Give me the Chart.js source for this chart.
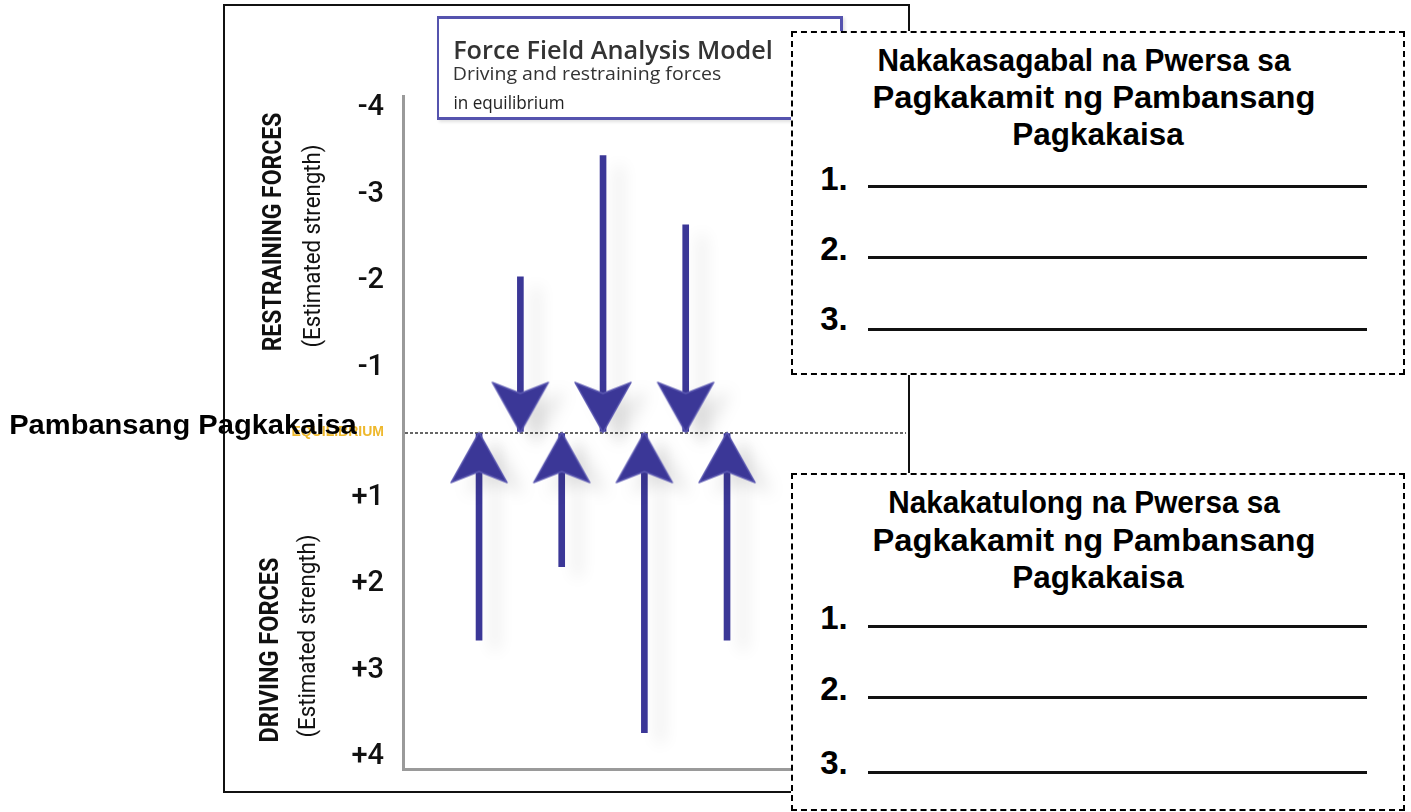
<!DOCTYPE html>
<html>
<head>
<meta charset="utf-8">
<script src="https://cdn.jsdelivr.net/npm/chart.js@4.4.1/dist/chart.umd.min.js"></script>
<style>
  html, body { margin:0; padding:0; background:#fff; }
  #page { position:relative; width:1411px; height:812px; overflow:hidden; background:#fff; }
  #frame { position:absolute; left:223px; top:4px; width:687px; height:789px; border:2px solid #111; box-sizing:border-box; z-index:1; }
  #chart { position:absolute; left:0; top:0; z-index:2; }
  #titlebox { position:absolute; left:437px; top:16px; width:406px; height:104px; box-sizing:border-box;
              border:3px solid #5553ae; border-left-width:2px; z-index:3; background:transparent;
              box-shadow: 2px 2px 3px rgba(0,0,0,0.12); }
  .t { position:absolute; white-space:nowrap; line-height:1; z-index:4; }
  .box { position:absolute; left:791px; width:614px; box-sizing:border-box; border:2px dashed #000; background:#fff; z-index:5; }
  .bt { position:absolute; white-space:nowrap; line-height:1; z-index:6; font-family:"Liberation Sans", Arial, sans-serif; font-weight:bold; color:#000; font-size:32px; }
  .num { font-size:33px; }
  .ul { position:absolute; left:868px; width:499px; height:0; border-top:3px solid #111; z-index:6; }
  #pp { z-index:7; }
</style>
</head>
<body>
<div id="page">
  <div id="frame"></div>
  <canvas id="chart" width="1411" height="812"></canvas>
  <div id="titlebox"></div>

  <div class="t" data-left="453" data-y="49" data-w="320" style="font-family:'Open Sans',sans-serif;font-weight:600;font-size:25px;color:#333;">Force Field Analysis Model</div>
  <div class="t" data-left="453" data-y="73" data-w="268" style="font-family:'Open Sans',sans-serif;font-weight:500;font-size:19px;color:#333;">Driving and restraining forces</div>
  <div class="t" data-left="453" data-y="102" data-w="111" style="font-family:'Open Sans',sans-serif;font-weight:500;font-size:19px;color:#222;">in equilibrium</div>

  <div class="t" data-x="272" data-y="232" data-w="239" data-rot="-90" style="font-family:Roboto,sans-serif;font-weight:700;font-size:25px;color:#111;">RESTRAINING FORCES</div>
  <div class="t" data-x="312" data-y="246" data-w="203" data-rot="-90" style="font-family:Roboto,sans-serif;font-weight:400;font-size:24px;color:#111;">(Estimated strength)</div>
  <div class="t" data-x="269" data-y="650" data-w="185" data-rot="-90" style="font-family:Roboto,sans-serif;font-weight:700;font-size:25px;color:#111;">DRIVING FORCES</div>
  <div class="t" data-x="307" data-y="636" data-w="203" data-rot="-90" style="font-family:Roboto,sans-serif;font-weight:400;font-size:24px;color:#111;">(Estimated strength)</div>

  <div class="t" id="pp" data-left="9" data-y="425" data-w="348" style="font-family:'Liberation Sans',Arial,sans-serif;font-weight:bold;font-size:28px;color:#000;">Pambansang Pagkakaisa</div>

  <div class="box" style="top:31px;height:344px;"></div>
  <div class="bt" data-x="1084" data-y="60" data-w="413">Nakakasagabal na Pwersa sa</div>
  <div class="bt" data-x="1094" data-y="97" data-w="443">Pagkakamit ng Pambansang</div>
  <div class="bt" data-x="1098" data-y="134" data-w="171">Pagkakaisa</div>
  <div class="bt num" data-left="820" data-y="178" data-w="28">1.</div>
  <div class="ul" style="top:185px;"></div>
  <div class="bt num" data-left="820" data-y="248" data-w="28">2.</div>
  <div class="ul" style="top:256px;"></div>
  <div class="bt num" data-left="820" data-y="318" data-w="28">3.</div>
  <div class="ul" style="top:328px;"></div>

  <div class="box" style="top:473px;height:338px;"></div>
  <div class="bt" data-x="1084" data-y="502" data-w="392">Nakakatulong na Pwersa sa</div>
  <div class="bt" data-x="1094" data-y="540" data-w="443">Pagkakamit ng Pambansang</div>
  <div class="bt" data-x="1098" data-y="577" data-w="171">Pagkakaisa</div>
  <div class="bt num" data-left="820" data-y="617" data-w="28">1.</div>
  <div class="ul" style="top:625px;"></div>
  <div class="bt num" data-left="820" data-y="688" data-w="28">2.</div>
  <div class="ul" style="top:696px;"></div>
  <div class="bt num" data-left="820" data-y="762" data-w="28">3.</div>
  <div class="ul" style="top:771px;"></div>
</div>

<script>
// ---- data ----
const drivingPositions = [1, 3, 5, 7];
const drivingStrength = [2.65, 1.8, 3.72, 2.65];
const restrainingPositions = [2, 4, 6];
const restrainingStrength = [-2.05, -3.45, -2.65];
const yTickValues = [-4, -3, -2, -1, 0, 1, 2, 3, 4];
const yTickLabels = ['-4', '-3', '-2', '-1', 'EQUILIBRIUM', '+1', '+2', '+3', '+4'];

// ---- text fitting ----
document.querySelectorAll('[data-w]').forEach(el => {
  const w = el.offsetWidth;
  const target = +el.dataset.w;
  const k = target / w;
  const cx = el.dataset.left !== undefined ? (+el.dataset.left + target / 2) : +el.dataset.x;
  const cy = +el.dataset.y;
  el.style.left = cx + 'px';
  el.style.top = cy + 'px';
  const rot = el.dataset.rot ? ' rotate(' + el.dataset.rot + 'deg)' : '';
  el.style.transform = 'translate(-50%,-50%)' + rot + ' scaleX(' + k + ')';
});

// ---- warped axis: the span around equilibrium is compressed as in the model drawing ----
const GAP = 0.25;
function warp(v) { const a = Math.abs(v); return a <= 1 ? v * (1 - GAP) : Math.sign(v) * (a - GAP); }
function unwarp(w) { const a = Math.abs(w); return a <= 1 - GAP ? w / (1 - GAP) : Math.sign(w) * (a + GAP); }
class WarpScale extends Chart.LinearScale {
  getPixelForValue(value) {
    const a = warp(this.min), b = warp(this.max);
    return this.top + (warp(value) - a) / (b - a) * this.height;
  }
  getValueForPixel(pixel) {
    const a = warp(this.min), b = warp(this.max);
    return unwarp(a + (pixel - this.top) / this.height * (b - a));
  }
}
WarpScale.id = 'warp';
WarpScale.defaults = Chart.LinearScale.defaults;
Chart.register(WarpScale);

// ---- arrowhead images (tip at the image centre) ----
const ARROW = '#3b3797';
function makeHead() {
  const c = document.createElement('canvas');
  c.width = 62; c.height = 106;
  const g = c.getContext('2d');
  g.beginPath();
  g.moveTo(31, 53);
  g.lineTo(59, 103);
  g.lineTo(31, 92);
  g.lineTo(3, 103);
  g.closePath();
  g.fillStyle = ARROW;
  g.fill();
  g.lineJoin = 'round';
  g.lineWidth = 1.5;
  g.strokeStyle = '#5a57b0';
  g.stroke();
  return c;
}
const headImg = makeHead();

const shadowPlugin = {
  id: 'softShadow',
  beforeDatasetsDraw(chart) {
    const ctx = chart.ctx;
    ctx.save();
    ctx.shadowColor = 'rgba(0,0,0,0.10)';
    ctx.shadowBlur = 16;
    ctx.shadowOffsetX = 16;
    ctx.shadowOffsetY = 10;
  },
  afterDatasetsDraw(chart) { chart.ctx.restore(); }
};

new Chart(document.getElementById('chart'), {
  type: 'bar',
  data: {
    datasets: [
      {
        type: 'scatter',
        label: 'Restraining heads',
        data: restrainingPositions.map(x => ({ x: x, y: 0 })),
        pointStyle: headImg,
        pointRotation: 180,
        pointRadius: 3
      },
      {
        type: 'scatter',
        label: 'Driving heads',
        data: drivingPositions.map(x => ({ x: x, y: 0 })),
        pointStyle: headImg,
        pointRotation: 0,
        pointRadius: 3
      },
      {
        label: 'Restraining forces',
        data: restrainingPositions.map((x, i) => ({ x: x, y: [0, restrainingStrength[i]] })),
        backgroundColor: ARROW,
        barThickness: 6,
        grouped: false
      },
      {
        label: 'Driving forces',
        data: drivingPositions.map((x, i) => ({ x: x, y: [0, drivingStrength[i]] })),
        backgroundColor: ARROW,
        barThickness: 6,
        grouped: false
      }
    ]
  },
  options: {
    responsive: false,
    animation: false,
    devicePixelRatio: 1,
    layout: { padding: { left: 0, top: 96, right: 505, bottom: 43 } },
    plugins: { legend: { display: false }, tooltip: { enabled: false } },
    scales: {
      x: {
        type: 'linear',
        min: -0.84,
        max: 11.33,
        offset: false,
        ticks: { display: false },
        grid: { display: false, drawTicks: false },
        border: { display: true, color: '#9a9a9a', width: 3 },
        afterFit: s => { s.height = 0; }
      },
      y: {
        type: 'warp',
        min: -4.14,
        max: 4.14,
        afterFit: s => { s.width = 403; },
        afterBuildTicks: s => { s.ticks = yTickValues.map(v => ({ value: v })); },
        ticks: {
          padding: 19,
          autoSkip: false,
          callback: v => { const i = yTickValues.indexOf(v); return i >= 0 ? yTickLabels[i] : ''; },
          color: c => (c.tick && c.tick.value === 0) ? '#eeb82c' : '#111',
          font: c => (c.tick && c.tick.value === 0)
            ? { family: "'Liberation Sans', Arial, sans-serif", size: 14, weight: 'bold' }
            : { family: 'Roboto, sans-serif', size: 29, weight: '500' }
        },
        grid: {
          drawTicks: false,
          lineWidth: 2,
          color: c => (c.tick && c.tick.value === 0) ? '#666' : 'rgba(0,0,0,0)'
        },
        border: { display: true, color: '#9a9a9a', width: 3, dash: [3, 2] }
      }
    }
  },
  plugins: [shadowPlugin]
});
</script>
</body>
</html>
